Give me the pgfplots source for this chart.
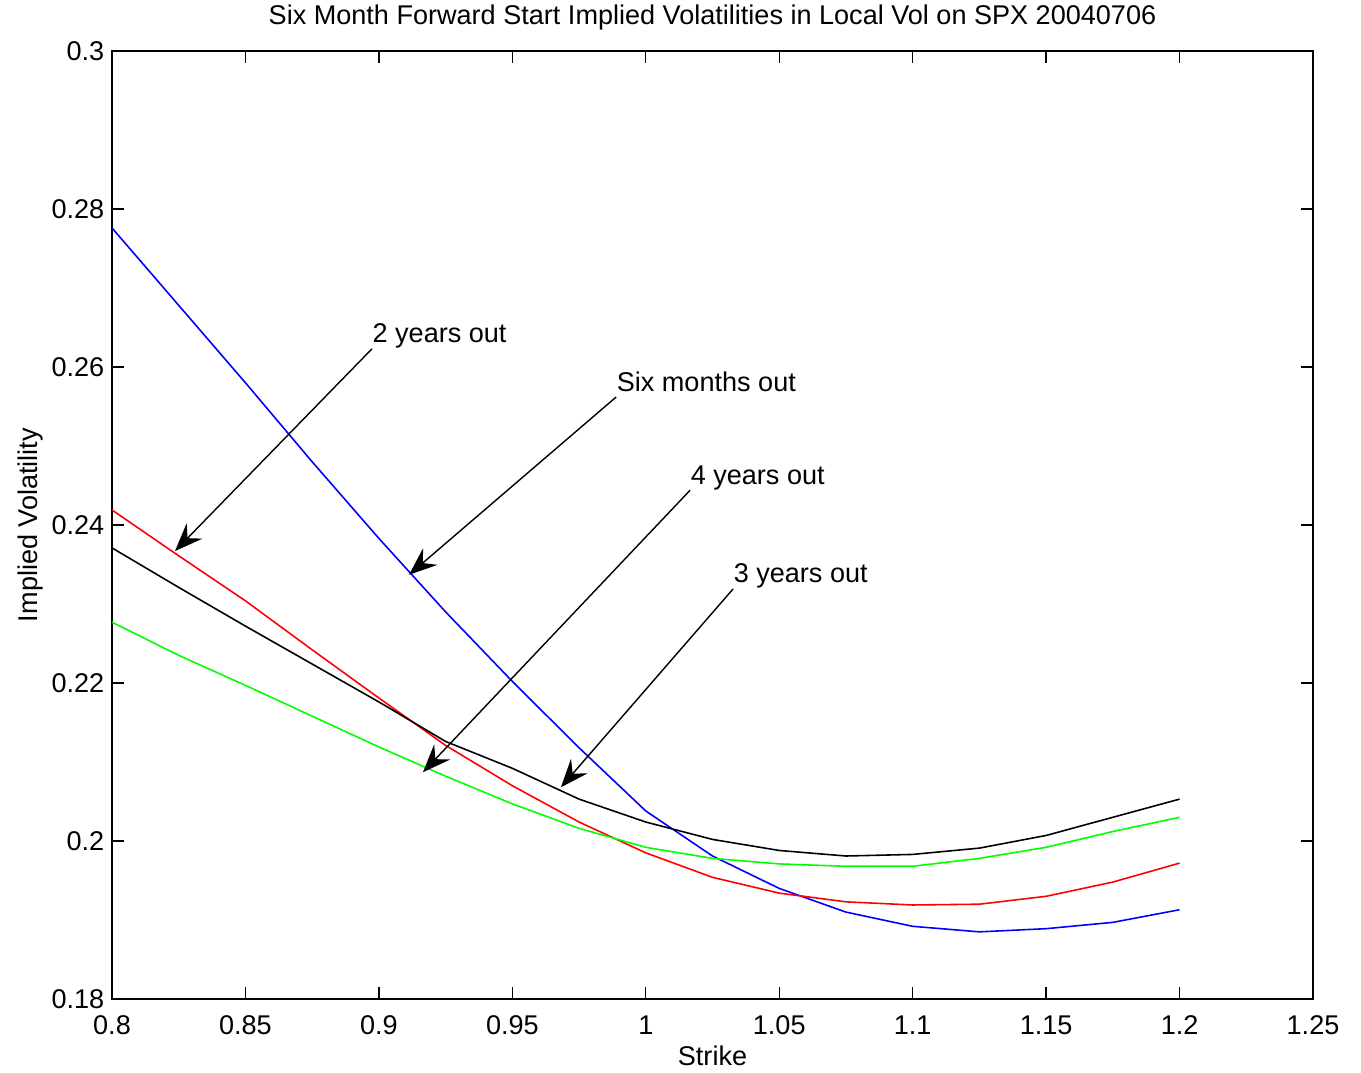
\documentclass[border=0pt]{standalone}
\usepackage{fontspec}
\setmainfont{Liberation Sans}
\usepackage{pgfplots}
\pgfplotsset{compat=1.18}
\usetikzlibrary{arrows.meta}

\pgfplotstableread{
k      six     two     three   four
0.800  0.2776  0.2419  0.2371  0.2277
0.825  0.2678  0.2361  0.2321  0.2235
0.850  0.2580  0.2304  0.2272  0.2197
0.875  0.2480  0.2242  0.2224  0.2158
0.900  0.2383  0.2181  0.2176  0.2119
0.925  0.2290  0.2121  0.2126  0.2082
0.950  0.2202  0.2070  0.2092  0.2047
0.975  0.2118  0.2024  0.2053  0.2016
1.000  0.2038  0.1985  0.2024  0.1992
1.025  0.1981  0.1954  0.2002  0.1978
1.050  0.1940  0.1934  0.1988  0.1971
1.075  0.1910  0.1923  0.1981  0.1968
1.100  0.1892  0.1919  0.1983  0.1968
1.125  0.1885  0.1920  0.1991  0.1978
1.150  0.1889  0.1930  0.2007  0.1992
1.175  0.1897  0.1948  0.2030  0.2012
1.200  0.1913  0.1972  0.2053  0.2030
}\vols

\begin{document}
\fontsize{7.7}{9}\selectfont
\begin{tikzpicture}
\begin{axis}[
  scale only axis, width=12.01cm, height=9.48cm,
  xmin=0.8, xmax=1.25, ymin=0.18, ymax=0.3,
  xtick={0.8,0.85,...,1.25}, ytick={0.18,0.2,...,0.3},
  xticklabels={0.8,0.85,0.9,0.95,1,1.05,1.1,1.15,1.2,1.25},
  yticklabels={0.18,0.2,0.22,0.24,0.26,0.28,0.3},
  tick align=inside, major tick length=0.12cm,
  tick style={black, line width=0.4pt},
  axis line style={line width=0.6pt},
  ticklabel style={font=\fontsize{7.7}{9}\selectfont},
  xticklabel style={yshift=-0.07cm},
  yticklabel style={xshift=0.02cm},
  title={Six Month Forward Start Implied Volatilities in Local Vol on SPX 20040706},
  title style={font=\fontsize{7.7}{9}\selectfont, yshift=-0.1cm},
  xlabel={Strike}, ylabel={Implied Volatility},
  label style={font=\fontsize{7.7}{9}\selectfont},
  xlabel style={yshift=0.08cm},
  ylabel style={yshift=-0.1cm},
  /pgf/number format/assume math mode=true,
  clip=false,
]
\addplot[blue, line width=0.45pt] table[x=k, y=six] {\vols};
\addplot[red, line width=0.45pt] table[x=k, y=two] {\vols};
\addplot[black, line width=0.45pt] table[x=k, y=three] {\vols};
\addplot[green, line width=0.45pt] table[x=k, y=four] {\vols};

\tikzset{ann/.style={-{Stealth[length=2.8mm, width=2.2mm, inset=1mm]}, line width=0.4pt}}
\draw[ann] (axis cs:0.8974,0.2623) -- (axis cs:0.8236,0.2367);
\node[anchor=base west, inner sep=0pt, yshift=0.06cm] at (axis cs:0.8974,0.2623) {2 years out};
\draw[ann] (axis cs:0.9889,0.2562) -- (axis cs:0.9113,0.2337);
\node[anchor=base west, inner sep=0pt, yshift=0.06cm] at (axis cs:0.9889,0.2562) {Six months out};
\draw[ann] (axis cs:1.0166,0.2444) -- (axis cs:0.9165,0.2087);
\node[anchor=base west, inner sep=0pt, yshift=0.06cm] at (axis cs:1.0166,0.2444) {4 years out};
\draw[ann] (axis cs:1.0327,0.2319) -- (axis cs:0.9682,0.2068);
\node[anchor=base west, inner sep=0pt, yshift=0.06cm] at (axis cs:1.0327,0.2319) {3 years out};
\end{axis}
\pgfresetboundingbox
\path (current axis.south west) ++(-1.12cm,-0.73cm) coordinate (bl);
\path (current axis.north east) ++(0.48cm,0.51cm) coordinate (tr);
\path (bl) rectangle (tr);
\end{tikzpicture}
\end{document}
